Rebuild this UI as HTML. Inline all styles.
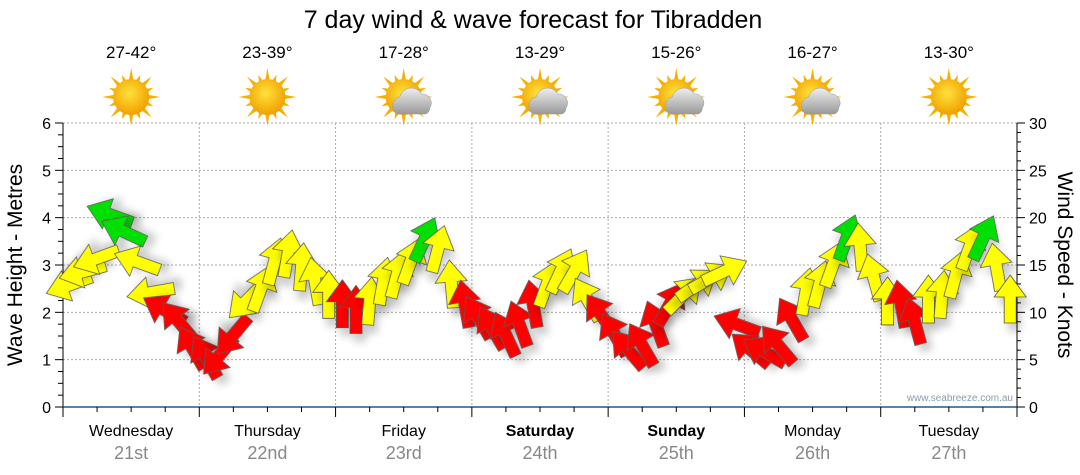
<!DOCTYPE html>
<html><head><meta charset="utf-8"><style>
body{margin:0;background:#fff;}
svg{display:block;font-family:"Liberation Sans",sans-serif;}
</style></head><body>
<svg id="c" width="1080" height="475">
<defs>
<radialGradient id="sunG" cx="45%" cy="40%" r="60%"><stop offset="0" stop-color="#ffe23a"/><stop offset="1" stop-color="#f0a000"/></radialGradient>
<linearGradient id="cloudG" x1="0" y1="0" x2="0" y2="1"><stop offset="0" stop-color="#eee"/><stop offset="1" stop-color="#999"/></linearGradient>
<filter id="sh" x="-50%" y="-50%" width="200%" height="200%"><feGaussianBlur in="SourceAlpha" stdDeviation="4"/><feOffset dx="4" dy="8"/><feComponentTransfer><feFuncA type="linear" slope="0.2"/></feComponentTransfer><feMerge><feMergeNode/><feMergeNode in="SourceGraphic"/></feMerge></filter>
</defs>
<text x="533" y="28" font-size="25" text-anchor="middle">7 day wind &amp; wave forecast for Tibradden</text>
<text transform="translate(22,265) rotate(-90)" font-size="21" text-anchor="middle">Wave Height - Metres</text>
<text transform="translate(1058,265) rotate(90)" font-size="21" text-anchor="middle">Wind Speed - Knots</text>
<text x="1013" y="401" font-size="10" fill="#8a9cb0" text-anchor="end">www.seabreeze.com.au</text>
<g id="grid"></g><g id="axes"></g><g id="icons"></g><g id="arrows"></g>
</svg>
<script>
const days=["Wednesday","Thursday","Friday","Saturday","Sunday","Monday","Tuesday"];
const dates=["21st","22nd","23rd","24th","25th","26th","27th"];
const temps=["27-42°","23-39°","17-28°","13-29°","15-26°","16-27°","13-30°"];
const cloudy=[0,0,1,1,1,1,0];
const waveTicks=[0,1,2,3,4,5,6];
const windTicks=[0,5,10,15,20,25,30];
const windSpeed=[12.9,14.3,15.7,20.3,18.5,15.3,12.1,10.2,9.0,6.2,
5.2,5.5,7.6,11.3,12.4,15.3,16.1,14.7,13.2,11.8,
10.8,10.2,11.1,13.2,13.9,15.3,17.6,16.6,12.9,10.8,
9.4,8.3,7.6,8.7,10.8,12.9,14.3,14.3,11.3,9.7,
7.6,6.0,6.5,8.7,10.8,11.8,12.9,13.6,14.3,8.7,
6.0,5.8,6.5,9.2,12.1,12.9,15.0,17.8,16.8,13.6,
11.1,10.8,9.0,11.3,11.8,13.9,16.8,17.8,14.7,11.3];
const windDir=[250,255,250,290,295,290,260,300,320,330,
330,220,220,225,20,15,10,5,350,0,
0,0,5,10,15,20,25,15,355,350,
330,330,335,340,350,20,25,30,330,325,
330,320,330,340,30,45,55,60,65,290,
310,300,320,330,10,15,20,20,355,345,
0,350,345,0,5,15,20,25,350,0];
const NS="http://www.w3.org/2000/svg";
const L=63,R=1017,T=123,B=407;
const xT=i=>L+(i+0.5)*(R-L)/windSpeed.length;
const yW=v=>B-(B-T)*v/6;
const yK=v=>B-(B-T)*v/30;
const xD=d=>L+d*(R-L)/7;
function mk(tag,at,par){const e=document.createElementNS(NS,tag);for(const k in at)e.setAttribute(k,at[k]);document.getElementById(par).appendChild(e);return e;}
for(const t of waveTicks){if(t===0)continue;const l=mk('line',{x1:L,x2:R,y1:yW(t),y2:yW(t),stroke:'#aaa','stroke-dasharray':'2,2'},'grid');

}
for(let d=1;d<7;d++){const l=mk('line',{x1:xD(d),x2:xD(d),y1:T,y2:B,stroke:'#aaa','stroke-dasharray':'2,2'},'grid');

}
mk('line',{x1:L,x2:L,y1:T,y2:B+10,stroke:'#000'},'axes');
mk('line',{x1:R,x2:R,y1:T,y2:B,stroke:'#000'},'axes');
mk('line',{x1:L,x2:R,y1:B,y2:B,stroke:'#1a5a8a','stroke-width':1.5},'axes');
for(const t of waveTicks){const tx=mk('text',{x:51,y:yW(t)+6,'font-size':16,'text-anchor':'end'},'axes');tx.textContent=t;

}
for(let v=0;v<=6;v+=0.25){const maj=v%1===0;mk('line',{x1:L-(maj?8:5),x2:L,y1:yW(v),y2:yW(v),stroke:'#000'},'axes');}
for(const t of windTicks){const tx=mk('text',{x:1029,y:yK(t)+6,'font-size':16},'axes');tx.textContent=t;

}
for(let v=0;v<=30;v+=1){const maj=v%5===0;mk('line',{x1:R,x2:R+(maj?8:4),y1:yK(v),y2:yK(v),stroke:'#000'},'axes');}
for(let q=0;q<=28;q++){const x=L+q*(R-L)/28;mk('line',{x1:x,x2:x,y1:B,y2:B+(q%4===0?10:5),stroke:'#000'},'axes');}
days.forEach((d,i)=>{const cx=xD(i+0.5);
const t=mk('text',{x:cx,y:436,'font-size':16,'text-anchor':'middle','font-weight':(i===3||i===4)?'bold':'normal'},'axes');t.textContent=d;


const t2=mk('text',{x:cx,y:459,'font-size':18,'text-anchor':'middle',fill:'#888'},'axes');t2.textContent=dates[i];


const t3=mk('text',{x:cx,y:58,'font-size':17,'text-anchor':'middle'},'icons');t3.textContent=temps[i];


const g=mk('g',{transform:`translate(${cx},97)`},'icons');


for(let a=0;a<16;a++){const an=a*Math.PI/8,r1=16,r2=a%2?24:29;
const p=document.createElementNS(NS,'polygon');
p.setAttribute('points',`${Math.sin(an)*r2},${-Math.cos(an)*r2} ${Math.sin(an+0.15)*r1},${-Math.cos(an+0.15)*r1} ${Math.sin(an-0.15)*r1},${-Math.cos(an-0.15)*r1}`);
p.setAttribute('fill','#f5b000');g.appendChild(p);}
const c=document.createElementNS(NS,'circle');c.setAttribute('r',18);c.setAttribute('fill','url(#sunG)');g.appendChild(c);
if(cloudy[i]){const cl=document.createElementNS(NS,'path');
cl.setAttribute('d','M-6,17 a9,9 0 0 1 2,-17 a12,12 0 0 1 22,-3 a9,9 0 0 1 8,14 a6,6 0 0 1 -4,6 z');
cl.setAttribute('fill','url(#cloudG)');cl.setAttribute('stroke','#999');cl.setAttribute('stroke-width','0.5');g.appendChild(cl);}
});
const ap="M0,-25 L16,-3 L6,-3 L6,23 L-6,23 L-6,-3 L-16,-3 Z";
windSpeed.forEach((s,i)=>{
const col=s>=17.5?'#00e000':(s>=11?'#ffff00':'#ff0000');
const p=mk('path',{d:ap,fill:col,stroke:'#555','stroke-width':0.8,filter:'url(#sh)',transform:`translate(${xT(i)},${yK(s)}) rotate(${windDir[i]})`},'arrows');


});
</script>
</body></html>
